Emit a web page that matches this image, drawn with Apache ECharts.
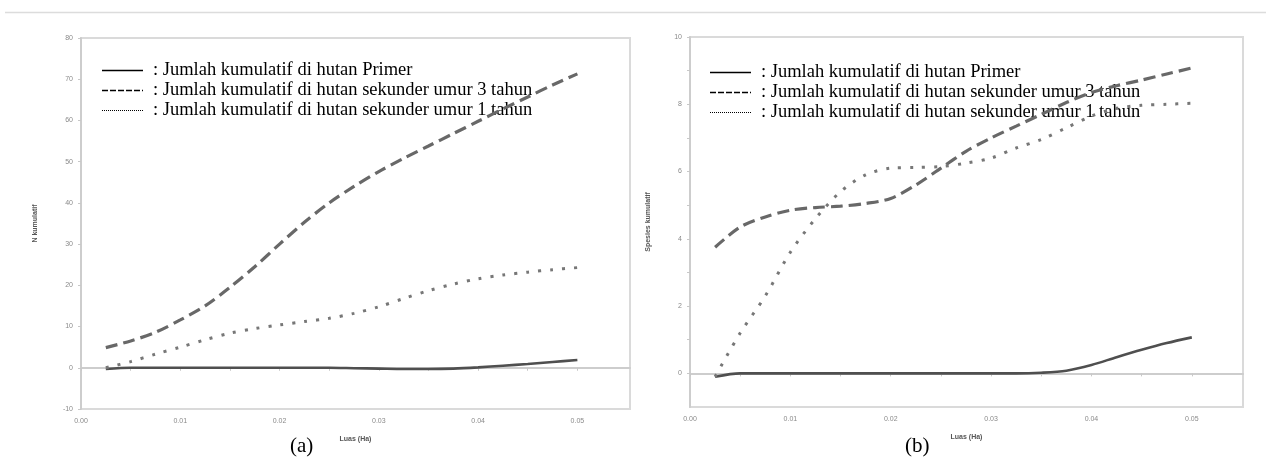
<!DOCTYPE html>
<html>
<head>
<meta charset="utf-8">
<script src="https://cdn.jsdelivr.net/npm/echarts@6/dist/echarts.min.js"></script>
<style>
html,body{margin:0;padding:0;background:#fff;}
#chart{width:1266px;height:462px;}
</style>
</head>
<body>
<div id="chart"></div>
<script>
// Sample areas (Luas, Ha)
const luas = [0.0025, 0.005, 0.0075, 0.01, 0.0125, 0.015, 0.0175, 0.02, 0.0225, 0.025,
              0.0275, 0.03, 0.0325, 0.035, 0.0375, 0.04, 0.0425, 0.045, 0.0475, 0.05];

// (a) N kumulatif
const aPrimer   = [-0.3, 0, 0, 0, 0, 0, 0, 0, 0, 0, -0.1, -0.2, -0.3, -0.3, -0.2, 0.1, 0.5, 0.9, 1.4, 1.9];
const aSek3     = [4.9, 6.5, 8.6, 11.6, 15.0, 19.5, 24.5, 30.0, 35.3, 40.0, 44.0, 47.6, 50.8, 53.8, 56.8, 59.8, 62.8, 65.7, 68.6, 71.3];
const aSek1     = [0, 1.5, 3.3, 5.0, 6.8, 8.4, 9.5, 10.4, 11.2, 12.0, 13.2, 14.8, 16.8, 18.7, 20.3, 21.6, 22.5, 23.2, 23.8, 24.3];

// (b) Spesies kumulatif
const bPrimer   = [-0.1, 0, 0, 0, 0, 0, 0, 0, 0, 0, 0, 0, 0, 0.02, 0.08, 0.25, 0.48, 0.7, 0.9, 1.07];
const bSek3     = [3.75, 4.35, 4.65, 4.85, 4.93, 4.97, 5.05, 5.2, 5.6, 6.1, 6.6, 7.0, 7.35, 7.7, 8.05, 8.35, 8.55, 8.72, 8.9, 9.08];
const bSek1     = [-0.1, 1.2, 2.3, 3.6, 4.6, 5.4, 5.9, 6.1, 6.12, 6.15, 6.25, 6.4, 6.7, 6.95, 7.3, 7.65, 7.88, 7.97, 8.0, 8.03];

const names = ['Jumlah kumulatif di hutan Primer',
               'Jumlah kumulatif di hutan sekunder umur 3 tahun',
               'Jumlah kumulatif di hutan sekunder umur 1 tahun'];

const xLabelVals = [0, 0.01, 0.02, 0.03, 0.04, 0.05];
const xTickVals  = [0, 0.005, 0.01, 0.015, 0.02, 0.025, 0.03, 0.035, 0.04, 0.045, 0.05];
const bYLabelVals = [0, 2, 4, 6, 8, 10];
const bYTickVals  = [0, 1, 2, 3, 4, 5, 6, 7, 8, 9, 10];

const pairs = (ys) => luas.map((x, i) => [x, ys[i]]);

const styles = [
  {color: '#4f4f4f', width: 2.6, type: 'solid'},
  {color: '#686868', width: 3.2, type: [12, 6]},
  {color: '#777777', width: 3, type: [3, 9]}
];
const legendStyles = [
  {stroke: '#000', lineWidth: 1.3, lineDash: null},
  {stroke: '#000', lineWidth: 1.3, lineDash: [6, 2]},
  {stroke: '#000', lineWidth: 1, lineDash: [1, 1]}
];

const axisLineStyle = {lineStyle: {color: '#cdcdcd', width: 2}};
const labelStyle = {color: '#8a8a8a', fontSize: 7, fontFamily: 'Liberation Sans'};
const nameStyle = {color: '#555', fontSize: 7, fontWeight: 'bold', fontFamily: 'Liberation Sans'};

function xAxis(gi, max) {
  return {
    type: 'value', gridIndex: gi, min: 0, max: max,
    name: 'Luas (Ha)', nameLocation: 'middle', nameGap: 27, nameTextStyle: nameStyle,
    axisLine: axisLineStyle,
    axisTick: {show: true, length: 3, lineStyle: {color: '#c8c8c8'}, customValues: xTickVals},
    axisLabel: Object.assign({margin: 9, customValues: xLabelVals, formatter: v => v.toFixed(2)}, labelStyle),
    splitLine: {show: false}
  };
}

function series(gi, data) {
  return data.map((d, i) => ({
    name: names[i], type: 'line', xAxisIndex: gi, yAxisIndex: gi,
    data: pairs(d), smooth: 0.3, symbol: 'none',
    lineStyle: Object.assign({cap: 'butt'}, styles[i]),
    silent: true, animation: false
  }));
}

function legendGraphic(x, rowsY) {
  const els = [];
  names.forEach((n, i) => {
    const y = rowsY[i] + 0.5;
    els.push({type: 'line', shape: {x1: x, y1: y, x2: x + 41, y2: y},
              style: legendStyles[i], silent: true});
    els.push({type: 'text', x: x + 51, y: rowsY[i],
              style: {text: ': ' + n, font: '18.5px "Liberation Serif"', fill: '#000', verticalAlign: 'middle', align: 'left'},
              silent: true});
  });
  return els;
}

const chart = echarts.init(document.getElementById('chart'));
chart.setOption({
  backgroundColor: '#fff',
  animation: false,
  title: [
    {text: '(a)', left: 290, top: 436, padding: 0, textStyle: {fontFamily: 'Liberation Serif', fontSize: 21, fontWeight: 'normal', color: '#000'}},
    {text: '(b)', left: 905, top: 436, padding: 0, textStyle: {fontFamily: 'Liberation Serif', fontSize: 21, fontWeight: 'normal', color: '#000'}}
  ],
  graphic: [
    {type: 'line', shape: {x1: 5, y1: 12.5, x2: 1266, y2: 12.5}, style: {stroke: '#dcdcdc', lineWidth: 1.5}, silent: true}
  ].concat(legendGraphic(102, [70, 90, 110])).concat(legendGraphic(710, [72, 92, 112])),
  grid: [
    {left: 81, top: 38, width: 549, height: 371, show: true, borderColor: '#dadada', borderWidth: 2, backgroundColor: '#fff'},
    {left: 690, top: 37, width: 553, height: 370, show: true, borderColor: '#dadada', borderWidth: 2, backgroundColor: '#fff'}
  ],
  xAxis: [xAxis(0, 0.0553), xAxis(1, 0.0551)],
  yAxis: [
    {
      type: 'value', gridIndex: 0, min: -10, max: 80, interval: 10,
      name: 'N kumulatif', nameLocation: 'middle', nameGap: 42, nameTextStyle: nameStyle,
      axisLine: Object.assign({show: true}, axisLineStyle),
      axisTick: {show: true, length: 3, lineStyle: {color: '#c8c8c8'}},
      axisLabel: Object.assign({margin: 8}, labelStyle),
      splitLine: {show: false}
    },
    {
      type: 'value', gridIndex: 1, min: -1, max: 10,
      name: 'Spesies kumulatif', nameLocation: 'middle', nameGap: 38, nameTextStyle: nameStyle,
      axisLine: Object.assign({show: true}, axisLineStyle),
      axisTick: {show: true, length: 3, lineStyle: {color: '#c8c8c8'}, customValues: bYTickVals},
      axisLabel: Object.assign({margin: 8, customValues: bYLabelVals}, labelStyle),
      splitLine: {show: false}
    }
  ],
  series: series(0, [aPrimer, aSek3, aSek1]).concat(series(1, [bPrimer, bSek3, bSek1]))
});
</script>
</body>
</html>
